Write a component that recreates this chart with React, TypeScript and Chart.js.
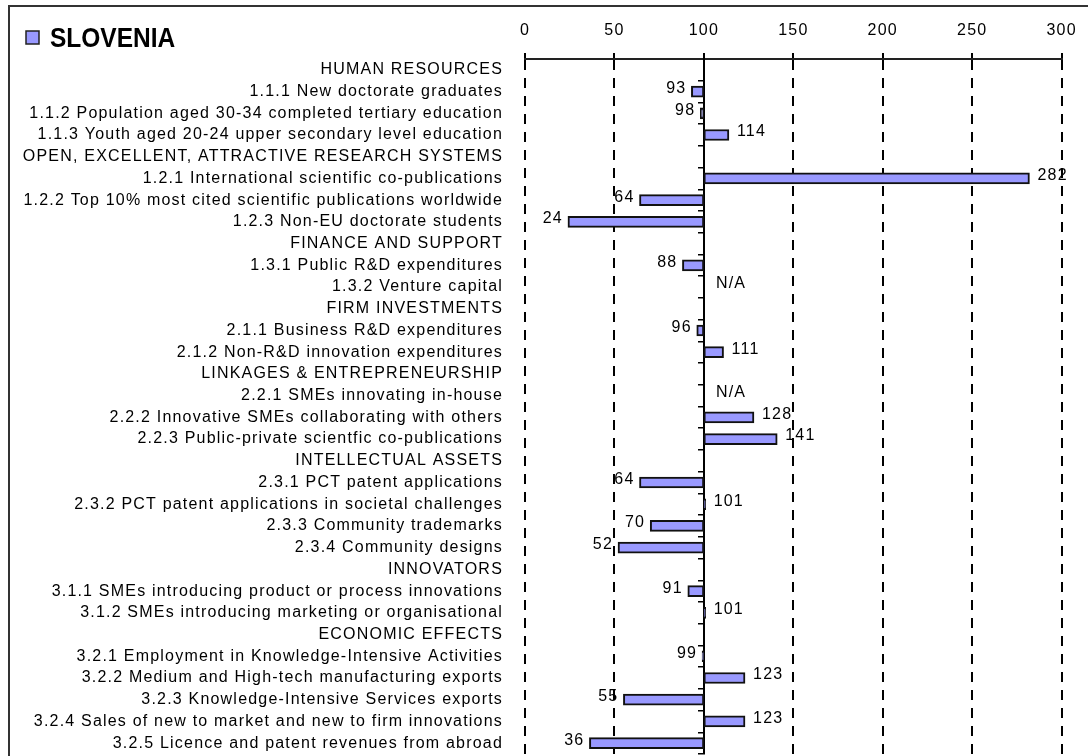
import React, { useEffect, useRef } from "react";
import { Chart, registerables } from "chart.js";

Chart.register(...registerables);

const countryName = "SLOVENIA";
const baseline = 100;

const categories = [
  "HUMAN RESOURCES",
  "1.1.1 New doctorate graduates",
  "1.1.2 Population aged 30-34 completed tertiary education",
  "1.1.3 Youth aged 20-24 upper secondary level education",
  "OPEN, EXCELLENT, ATTRACTIVE RESEARCH SYSTEMS",
  "1.2.1 International scientific co-publications",
  "1.2.2 Top 10% most cited scientific publications worldwide",
  "1.2.3 Non-EU doctorate students",
  "FINANCE AND SUPPORT",
  "1.3.1 Public R&D expenditures",
  "1.3.2 Venture capital",
  "FIRM INVESTMENTS",
  "2.1.1 Business R&D expenditures",
  "2.1.2 Non-R&D innovation expenditures",
  "LINKAGES & ENTREPRENEURSHIP",
  "2.2.1 SMEs innovating in-house",
  "2.2.2 Innovative SMEs collaborating with others",
  "2.2.3 Public-private scientfic co-publications",
  "INTELLECTUAL ASSETS",
  "2.3.1 PCT patent applications",
  "2.3.2 PCT patent applications in societal challenges",
  "2.3.3 Community trademarks",
  "2.3.4 Community designs",
  "INNOVATORS",
  "3.1.1 SMEs introducing product or process innovations",
  "3.1.2 SMEs introducing marketing or organisational",
  "ECONOMIC EFFECTS",
  "3.2.1 Employment in Knowledge-Intensive Activities",
  "3.2.2 Medium and High-tech manufacturing exports",
  "3.2.3 Knowledge-Intensive Services exports",
  "3.2.4 Sales of new to market and new to firm innovations",
  "3.2.5 Licence and patent revenues from abroad",
];

// null = section header (no bar)
const scores: (number | null)[] = [
  null, 93, 98, 114,
  null, 282, 64, 24,
  null, 88, null,
  null, 96, 111,
  null, null, 128, 141,
  null, 64, 101, 70, 52,
  null, 91, 101,
  null, 99, 123, 55, 123, 36,
];

// rows reported as not available
const notAvailable = ["1.3.2 Venture capital", "2.2.1 SMEs innovating in-house"];

const xTicks = [0, 50, 100, 150, 200, 250, 300];

const FONT = "'Liberation Sans', Arial, sans-serif";
const BAR_COLOR = "#9999FF";

const spacingPlugin = {
  id: "letterSpacing",
  beforeDraw(chart: any) {
    (chart.ctx as any).letterSpacing = "1.2px";
  },
};

const titlePlugin = {
  id: "titleBox",
  afterDraw(chart: any) {
    const ctx = chart.ctx;
    ctx.save();
    (ctx as any).letterSpacing = "0px";
    ctx.fillStyle = BAR_COLOR;
    ctx.fillRect(26, 31, 13, 13);
    ctx.strokeStyle = "#222";
    ctx.lineWidth = 1.5;
    ctx.strokeRect(26, 31, 13, 13);
    ctx.translate(50, 46.5);
    ctx.scale(0.875, 1);
    ctx.font = `bold 28px ${FONT}`;
    ctx.fillStyle = "#000";
    ctx.textBaseline = "alphabetic";
    ctx.textAlign = "left";
    ctx.fillText(countryName, 0, 0);
    ctx.restore();
  },
};

const valueLabelPlugin = {
  id: "valueLabels",
  afterDatasetsDraw(chart: any) {
    const ctx = chart.ctx;
    const xs = chart.scales.x;
    const ys = chart.scales.y;
    ctx.save();
    ctx.font = `16px ${FONT}`;
    ctx.fillStyle = "#000";
    ctx.textBaseline = "middle";
    categories.forEach((cat, i) => {
      const y = ys.getPixelForValue(i) - 3;
      const v = scores[i];
      if (v == null) {
        if (notAvailable.includes(cat)) {
          ctx.textAlign = "left";
          ctx.fillText("N/A", xs.getPixelForValue(baseline) + 12, y);
        }
        return;
      }
      const px = xs.getPixelForValue(v);
      if (v < baseline) {
        ctx.textAlign = "right";
        ctx.fillText(String(v), px - 5, y);
      } else {
        ctx.textAlign = "left";
        ctx.fillText(String(v), px + 8, y);
      }
    });
    ctx.restore();
  },
};

export default function App() {
  const canvasRef = useRef<HTMLCanvasElement | null>(null);

  useEffect(() => {
    if (!canvasRef.current) return;
    const chart = new Chart(canvasRef.current, {
      type: "bar",
      data: {
        labels: categories,
        datasets: [
          {
            label: countryName,
            data: scores.map((v) => (v == null ? null : [baseline, v])) as any,
            backgroundColor: BAR_COLOR,
            borderColor: "#111",
            borderWidth: 2,
            borderSkipped: false,
            barThickness: 11,
          },
        ],
      },
      options: {
        indexAxis: "y",
        animation: false,
        responsive: false,
        devicePixelRatio: 1,
        layout: { padding: { top: 0, right: 16, bottom: 2, left: 0 } },
        plugins: {
          legend: { display: false },
          tooltip: { enabled: false },
        },
        scales: {
          x: {
            type: "linear",
            position: "top",
            min: 0,
            max: 300,
            afterBuildTicks: (scale: any) => {
              scale.ticks = xTicks.map((v) => ({ value: v }));
            },
            afterFit: (scale: any) => {
              scale.height = 59;
            },
            ticks: {
              font: { family: FONT, size: 16 },
              color: "#000",
              padding: 13,
            },
            grid: {
              color: "#000",
              lineWidth: 2,
              tickLength: 6,
              tickBorderDash: [] as any,
            } as any,
            border: { display: true, color: "#222", width: 2, dash: [10, 8] },
          },
          y: {
            type: "category",
            position: "left",
            afterFit: (scale: any) => {
              scale.width = 525;
              scale.paddingTop = 0;
              scale.paddingBottom = 0;
            },
            ticks: {
              autoSkip: false,
              font: { family: FONT, size: 16 },
              color: "#000",
              padding: 22,
            },
            grid: { display: false, drawTicks: false },
            border: { display: false },
          },
          y2: {
            type: "category",
            position: { x: baseline } as any,
            offset: true,
            ticks: { display: false },
            grid: {
              offset: true,
              drawOnChartArea: false,
              drawTicks: true,
              tickLength: 5,
              color: "#000",
              lineWidth: 1.5,
            },
            border: { display: true, color: "#000", width: 2 },
          },
        },
      } as any,
      plugins: [spacingPlugin, titlePlugin, valueLabelPlugin],
    });
    return () => chart.destroy();
  }, []);

  return (
    <div
      style={{
        position: "fixed",
        left: 0,
        top: 0,
        width: 1088,
        height: 756,
        background: "#fff",
        overflow: "hidden",
      }}
    >
      <div
        style={{
          position: "absolute",
          left: 8,
          top: 5,
          width: 1200,
          height: 900,
          borderTop: "2px solid #333",
          borderLeft: "2px solid #333",
        }}
      />
      <canvas
        ref={canvasRef}
        width={1088}
        height={756}
        style={{ position: "absolute", left: 0, top: 0, width: 1088, height: 756 }}
      />
    </div>
  );
}
